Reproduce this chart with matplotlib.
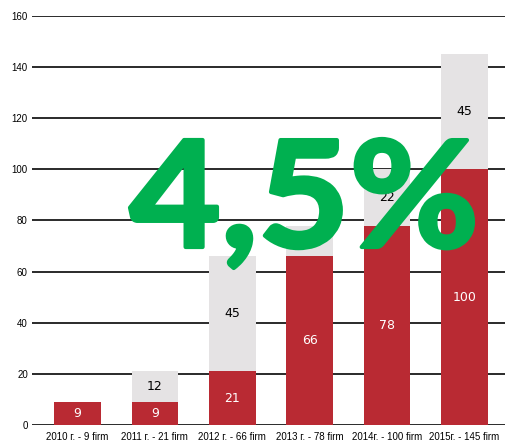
import matplotlib
matplotlib.use('Agg')
import matplotlib.pyplot as plt
import numpy as np
from matplotlib.textpath import TextPath
from matplotlib.patches import PathPatch
from matplotlib.font_manager import FontProperties
from matplotlib.transforms import Affine2D

labels = ['2010 г. - 9 firm', '2011 г. - 21 firm', '2012 г. - 66 firm',
          '2013 г. - 78 firm', '2014г. - 100 firm', '2015г. - 145 firm']
red_vals = [9, 9, 21, 66, 78, 100]
gray_vals = [0, 12, 45, 12, 22, 45]
y_ticks = [0, 20, 40, 60, 80, 100, 120, 140, 160]
big_text = '4,5%'

RED = '#b92a33'
GRAY = '#e5e3e4'
GREEN = '#00b050'
narrow = ['Liberation Sans', 'DejaVu Sans']

fig = plt.figure(figsize=(5.06, 4.45), dpi=100)
ax = fig.add_axes([32/506, 20/445, 474/506, 409/445])

x = np.arange(len(labels))
ax.bar(x, red_vals, width=0.6, color=RED, zorder=3)
ax.bar(x, gray_vals, width=0.6, bottom=red_vals, color=GRAY, zorder=3)

for i in range(len(labels)):
    ax.text(x[i], red_vals[i] / 2, str(red_vals[i]), color='white',
            ha='center', va='center', fontsize=9, zorder=4)
    if gray_vals[i] > 0:
        ax.text(x[i], red_vals[i] + gray_vals[i] / 2, str(gray_vals[i]), color='black',
                ha='center', va='center', fontsize=9, zorder=4)

for t in y_ticks:
    ax.axhline(t, color='#2a2a2a', lw=1.4, zorder=1)

ax.set_xlim(-0.588, 5.536)
ax.set_ylim(0, 160)
ax.set_yticks(y_ticks)
ax.set_yticklabels([str(t) for t in y_ticks], family=narrow, fontsize=7)
ax.set_xticks(x)
ax.set_xticklabels(labels, family=narrow, fontsize=7)
ax.tick_params(length=0)
ax.tick_params(axis='x', pad=5)
ax.tick_params(axis='y', pad=3)
for s in ax.spines.values():
    s.set_visible(False)

# big green percentage, fitted into its box (pixels: x 128..475, cap top 138, baseline 249)
# Lato bold plus a stroke to get the heavy Calibri-like weight
prop = FontProperties(family='Lato', weight='bold')
tp = TextPath((0, 0), big_text, size=100, prop=prop)
ext = tp.get_extents()
cap = TextPath((0, 0), '4', size=100, prop=prop).get_extents().y1
sx = (473 - 130) / (ext.x1 - ext.x0)
sy = (247 - 140) / cap
tr = (Affine2D().translate(-ext.x0, 0).scale(sx, sy).translate(130, 445 - 247)
      .scale(1 / 506, 1 / 445) + fig.transFigure)
fig.add_artist(PathPatch(tp, facecolor=GREEN, edgecolor=GREEN, lw=3, joinstyle='round',
                         transform=tr, zorder=10))

fig.savefig('out.png', dpi=100)
